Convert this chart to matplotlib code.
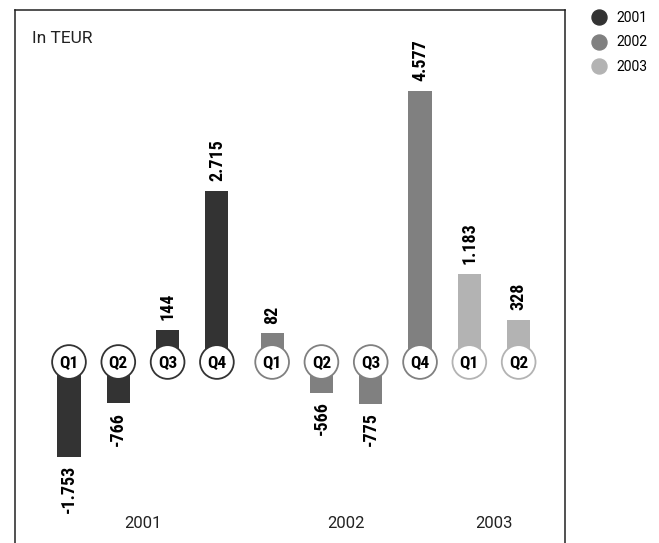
import numpy as np
import matplotlib
matplotlib.use("Agg")
import matplotlib.pyplot as plt
from matplotlib import font_manager
from matplotlib.lines import Line2D
import matplotlib.transforms as mtransforms

# ---------------- data ----------------
years = ["2001", "2002", "2003"]
quarters = ["Q1", "Q2", "Q3", "Q4", "Q1", "Q2", "Q3", "Q4", "Q1", "Q2"]
bar_year = ["2001", "2001", "2001", "2001", "2002", "2002", "2002", "2002", "2003", "2003"]
values = [-1753, -766, 144, 2715, 82, -566, -775, 4577, 1183, 328]
unit_label = "In TEUR"

# ---------------- style ----------------
colors = {"2001": "#333333", "2002": "#808080", "2003": "#b3b3b3"}

avail = {f.name for f in font_manager.fontManager.ttflist}
def pick(cands, fallback="DejaVu Sans"):
    for c in cands:
        if c in avail:
            return c
    return fallback

cond_font = pick(["Roboto Condensed", "Liberation Sans Narrow", "Roboto"])
reg_font = pick(["Roboto", "Lato", "DejaVu Sans"])

W, H = 659, 543
fig = plt.figure(figsize=(W / 100, H / 100), dpi=100)
ax = fig.add_axes([15 / W, 0, 550 / W, 1 - 10 / H])

# the chart gives positive bars a constant extra length so they clear the circles
P = 450.0
def fwd(v):
    v = np.asarray(v, dtype=float)
    return np.where(v > 0, v + P, v)
def inv(y):
    y = np.asarray(y, dtype=float)
    return np.where(y > P, y - P, np.where(y > 0, 0.0, y))
ax.set_yscale("function", functions=(fwd, inv))

idx = np.arange(len(values))
pos = idx + np.where(np.array(bar_year) != "2001", 0.12, 0.0)
bar_colors = [colors[y] for y in bar_year]

ax.bar(pos, values, width=0.47, color=bar_colors, zorder=2)

# quarter circles
ax.scatter(pos, np.zeros(len(pos)), s=590, facecolor="white",
           edgecolor=bar_colors, linewidth=1.3, zorder=3)
for x, q in zip(pos, quarters):
    ax.text(x, 0, q, ha="center", va="center_baseline", fontsize=12.5,
            fontweight="bold", family=cond_font, color="black", zorder=4)

# value labels
def fmt(v):
    return f"{v:,}".replace(",", ".")
for x, v in zip(pos, values):
    if v >= 0:
        ax.annotate(fmt(v), (x, v), xytext=(0, 7), textcoords="offset points",
                    rotation=90, ha="center", va="bottom", fontsize=13,
                    fontweight="bold", family=cond_font)
    else:
        ax.annotate(fmt(v), (x, v), xytext=(0, -6), textcoords="offset points",
                    rotation=90, ha="center", va="top", fontsize=13,
                    fontweight="bold", family=cond_font)

# year labels
trans = mtransforms.blended_transform_factory(ax.transData, ax.transAxes)
for yr in years:
    xs = pos[np.array(bar_year) == yr]
    ax.text(xs.mean(), 0.0375, yr, transform=trans, ha="center", va="center",
            fontsize=12, family=reg_font, color="#222222")

ax.text(0.0304, 0.9375, unit_label, transform=ax.transAxes, ha="left",
        va="baseline", fontsize=12.5, family=reg_font, color="#222222")

k = 0.054  # px per unit in transformed space
ax.set_ylim(inv((-(H - 362) / k)), float(inv((362 - 10) / k)))
ax.set_xlim(-1.095, 10.06)
ax.set_xticks([])
ax.set_yticks([])
ax.minorticks_off()
for s in ["left", "right", "top"]:
    ax.spines[s].set_linewidth(1.1)
    ax.spines[s].set_color("#222222")
ax.spines["bottom"].set_visible(False)

# legend
handles = [Line2D([], [], linestyle="none", marker="o", markersize=10.8,
                  markerfacecolor=colors[y], markeredgecolor=colors[y]) for y in years]
fig.legend(handles, years, loc="upper left", bbox_to_anchor=(592 / W, 1 - 11 / H),
           bbox_transform=fig.transFigure, frameon=False, borderpad=0,
           borderaxespad=0, handlelength=1.0, handletextpad=0.75,
           labelspacing=0.75, prop={"family": reg_font, "size": 10})

fig.savefig("out.png", dpi=100)
